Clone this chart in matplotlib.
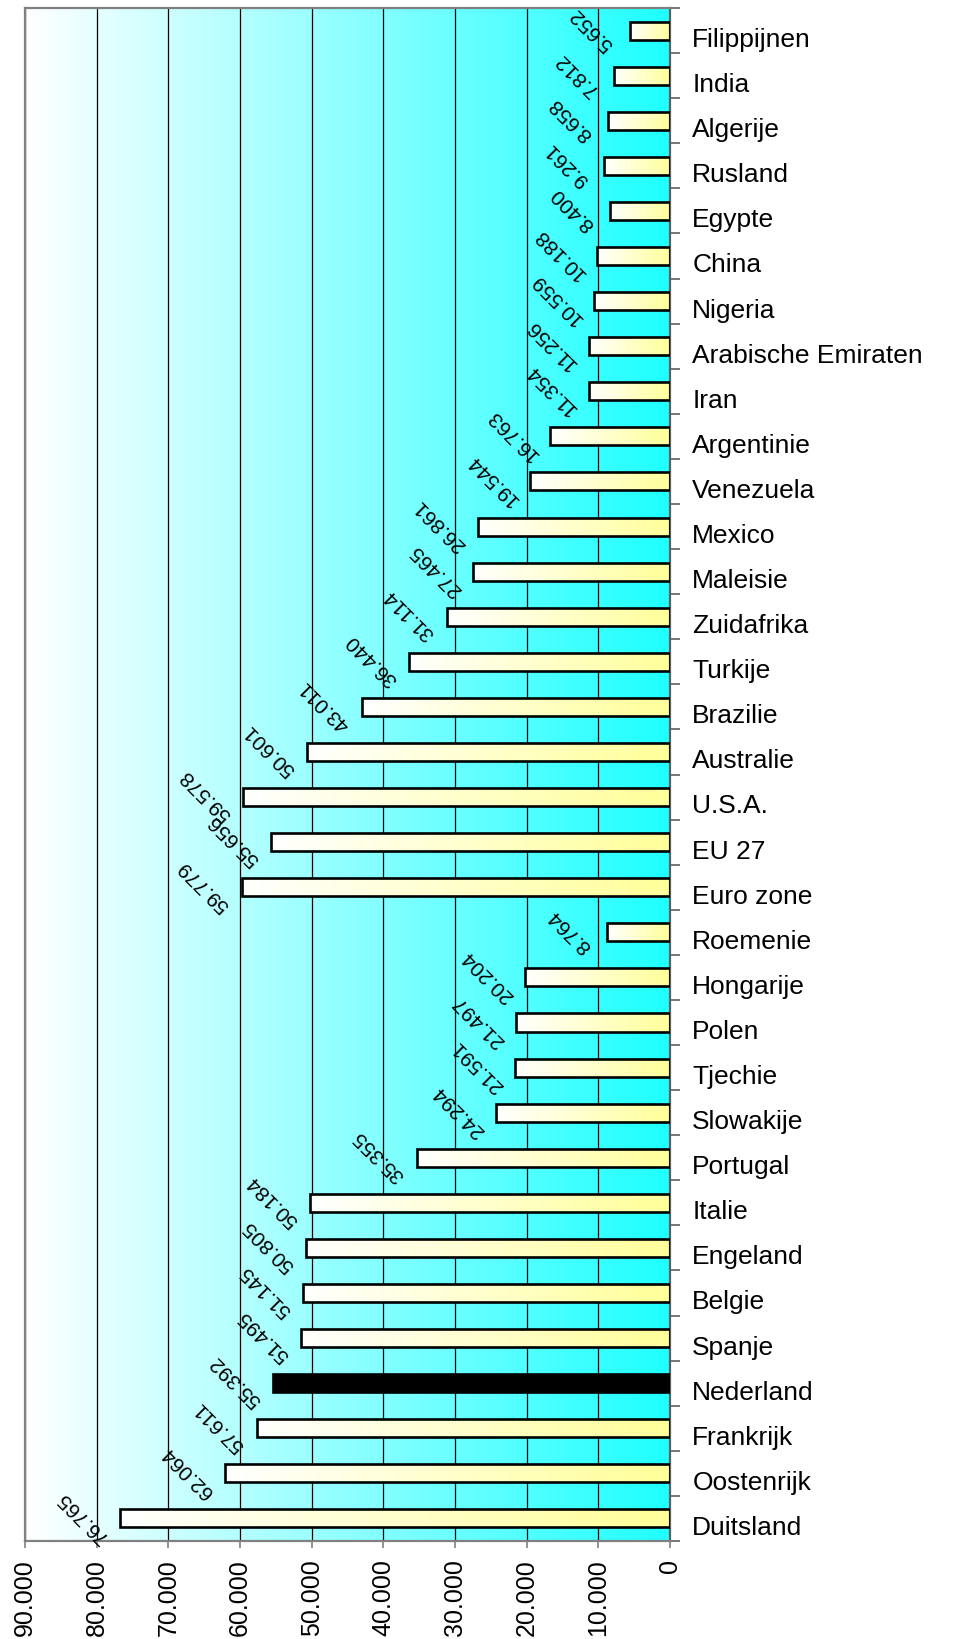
import numpy as np
import matplotlib
matplotlib.use("Agg")
import matplotlib.pyplot as plt
from matplotlib.colors import LinearSegmentedColormap
from matplotlib.transforms import ScaledTranslation

plt.rcParams['font.family'] = ['Liberation Sans', 'DejaVu Sans']

# ---------------------------------------------------------------------
# Data (top to bottom as shown in the chart)
# ---------------------------------------------------------------------
landen = ["Filippijnen", "India", "Algerije", "Rusland", "Egypte", "China",
          "Nigeria", "Arabische Emiraten", "Iran", "Argentinie", "Venezuela",
          "Mexico", "Maleisie", "Zuidafrika", "Turkije", "Brazilie",
          "Australie", "U.S.A.", "EU 27", "Euro zone", "Roemenie",
          "Hongarije", "Polen", "Tjechie", "Slowakije", "Portugal", "Italie",
          "Engeland", "Belgie", "Spanje", "Nederland", "Frankrijk",
          "Oostenrijk", "Duitsland"]
waarden = [5652, 7812, 8658, 9261, 8400, 10188, 10559, 11256, 11354, 16763,
           19544, 26861, 27465, 31114, 36440, 43011, 50601, 59578, 55656,
           59779, 8764, 20204, 21497, 21591, 24294, 35355, 50184, 50805,
           51145, 51495, 55392, 57611, 62064, 76765]
xticks = [90000, 80000, 70000, 60000, 50000, 40000, 30000, 20000, 10000, 0]
xticklabels = ["90.000", "80.000", "70.000", "60.000", "50.000", "40.000",
               "30.000", "20.000", "10.000", "0"]
highlight = "Nederland"

n = len(landen)
ypos = np.arange(n)

fig = plt.figure(figsize=(9.6, 16.39), dpi=100)
ax = fig.add_axes([0.026, 0.0598, 0.672, 0.9353])

# background gradient white -> cyan
bg = LinearSegmentedColormap.from_list("bg", ["#ffffff", "#1effff"])
grad = np.linspace(0, 1, 256).reshape(1, -1)
ax.imshow(grad, cmap=bg, aspect="auto", extent=(90000, 0, n - 0.5, -0.5),
          zorder=0, interpolation="bicubic")

# bars: white -> pale yellow gradient inside each bar
barcmap = LinearSegmentedColormap.from_list("bar", ["#ffffff", "#ffff99"])
bars = ax.barh(ypos, waarden, height=0.4, facecolor="none",
               edgecolor="black", linewidth=1.9, zorder=3)
for b, naam, v, y in zip(bars, landen, waarden, ypos):
    if naam == highlight:
        b.set_facecolor("black")
        continue
    im = ax.imshow(grad, cmap=barcmap, aspect="auto",
                   extent=(v, 0, y + 0.2, y - 0.2), zorder=2,
                   interpolation="bicubic")
    im.set_clip_path(b)

# value labels (Dutch thousands separator), rotated
for v, y in zip(waarden, ypos):
    label = f"{v:,}".replace(",", ".")
    ax.annotate(label, xy=(v, y), xytext=(-27, 1), textcoords="offset points",
                rotation=135, ha="center", va="center", fontsize=15,
                zorder=4)

ax.set_xlim(90000, 0)
ax.set_ylim(n - 0.5, -0.5)

# grid + x ticks
ax.set_xticks(xticks)
ax.set_xticklabels(xticklabels, rotation=90, fontsize=18, va="top")
ax.xaxis.grid(True, color="black", linewidth=0.9)
ax.set_axisbelow(True)
for gl in ax.get_xgridlines():
    gl.set_zorder(1)
ax.tick_params(axis="x", direction="out", length=5, width=1.2,
               color="#808080", pad=8)

# y axis on the right
ax.yaxis.tick_right()
ax.set_yticks(ypos)
ax.set_yticklabels(landen, fontsize=19)
ax.set_yticks(np.arange(-0.5, n, 1.0), minor=True)
ax.tick_params(axis="y", which="major", length=0, pad=16)
ax.tick_params(axis="y", which="minor", direction="out", length=7,
               width=1.2, color="#606060")
shift = ScaledTranslation(0, -5 / 72, fig.dpi_scale_trans)
for lbl in ax.get_yticklabels():
    lbl.set_transform(lbl.get_transform() + shift)

for side in ["left", "top", "bottom"]:
    ax.spines[side].set_color("#808080")
    ax.spines[side].set_linewidth(1.6)
ax.spines["right"].set_color("#606060")
ax.spines["right"].set_linewidth(1.6)

fig.savefig("out.png", dpi=100)
